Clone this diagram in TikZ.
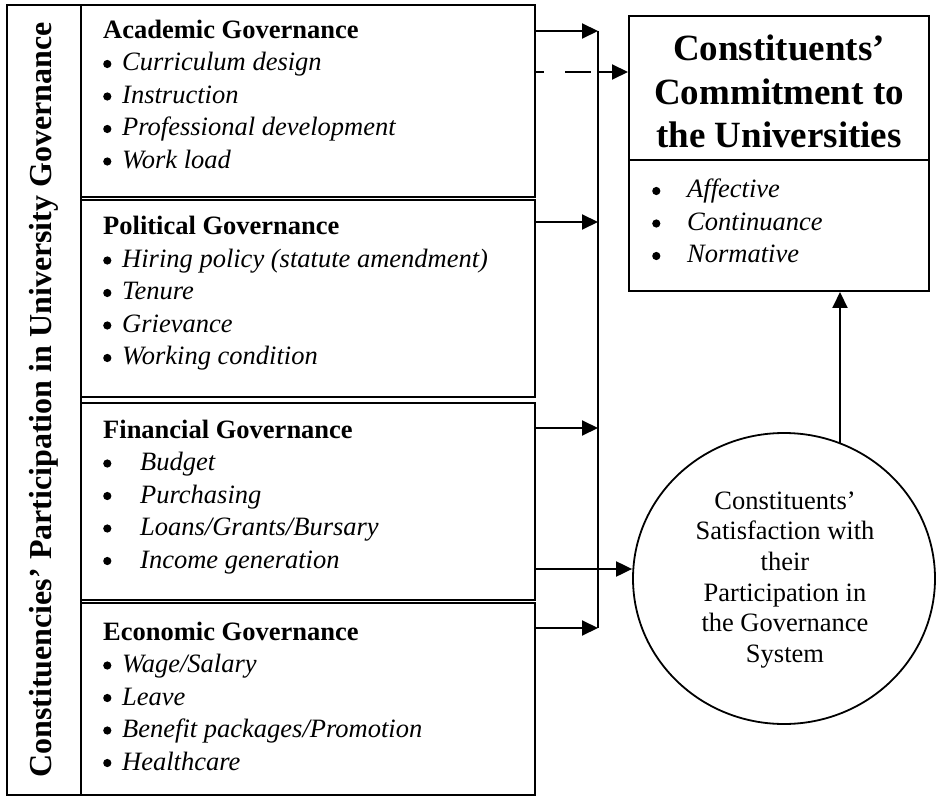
\documentclass[tikz,border=0pt]{standalone}
\usepackage{fontspec}
\setmainfont{Liberation Serif}
\usetikzlibrary{arrows.meta,shapes.geometric,calc}
\newcommand\rowsL[1]{\begin{tabular}[t]{@{}l@{}}#1\end{tabular}}
\newcommand\rowsC[1]{\begin{tabular}[t]{@{}c@{}}#1\end{tabular}}
\newcommand\bulletdot{\tikz[x=1pt,y=1pt,baseline=0pt]\fill (4.2,7) circle[radius=4.1];}
\newcommand\itm[2][19pt]{\makebox[#1][l]{\bulletdot}\textit{#2}}
\begin{document}
\begin{tikzpicture}[x=1pt,y=-1pt,line width=2pt,
  box/.style={draw,rectangle,inner sep=0pt,line width=2pt},
  arr/.style={-{Triangle[length=16pt,width=15pt]},line width=2pt},
  body/.style={inner sep=0pt,anchor=base west,font=\fontsize{26.5}{32.5}\selectfont},
  ctext/.style={inner sep=0pt,anchor=base},
]
\useasboundingbox (0,0) rectangle (936,799);

% left band with rotated title
\node[box,rotate=90,minimum width=790pt,minimum height=74pt,
      font=\fontsize{32}{38}\selectfont\bfseries] (band) at (44,400)
      {Constituencies’ Participation in University Governance};

% governance boxes
\node[box,minimum width=454pt,minimum height=192pt] (acad) at (308,101) {};
\node[box,minimum width=454pt,minimum height=197pt] (poli) at (308,298.5) {};
\node[box,minimum width=454pt,minimum height=197pt] (fina) at (308,501.5) {};
\node[box,minimum width=454pt,minimum height=192pt] (econ) at (308,699) {};

\node[body] (acadT) at (103,38.5) {\rowsL{\textbf{Academic Governance}\\
  \itm{Curriculum design}\\ \itm{Instruction}\\ \itm{Professional development}\\ \itm{Work load}}};
\node[body] (poliT) at (103,235) {\rowsL{\textbf{Political Governance}\\
  \itm{Hiring policy (statute amendment)}\\ \itm{Tenure}\\ \itm{Grievance}\\ \itm{Working condition}}};
\node[body] (finaT) at (103,438) {\rowsL{\textbf{Financial Governance}\\
  \itm[37pt]{Budget}\\ \itm[37pt]{Purchasing}\\ \itm[37pt]{Loans/Grants/Bursary}\\ \itm[37pt]{Income generation}}};
\node[body] (econT) at (103,640) {\rowsL{\textbf{Economic Governance}\\
  \itm{Wage/Salary}\\ \itm{Leave}\\ \itm{Benefit packages/Promotion}\\ \itm{Healthcare}}};

% commitment box
\node[box,minimum width=300pt,minimum height=275pt] (commit) at (779,153.5) {};
\coordinate (dv) at (779,160);
\draw (commit.west |- dv) -- (commit.east |- dv);
\node[ctext,font=\fontsize{37}{43.5}\selectfont\bfseries] (ctitle) at (779,61)
  {\rowsC{Constituents’\\Commitment to\\the Universities}};
\node[body] (clist) at (652,198) {\rowsL{\itm[35pt]{Affective}\\ \itm[35pt]{Continuance}\\ \itm[35pt]{Normative}}};

% satisfaction ellipse
\node[draw,ellipse,minimum width=302pt,minimum height=291pt,inner sep=0pt,line width=1.8pt] (sat) at (784,578.5) {};
\node[ctext,font=\fontsize{26.5}{30.7}\selectfont] (satT) at (785,509)
  {\rowsC{Constituents’\\Satisfaction with\\their\\Participation in\\the Governance\\System}};

% bus and connectors
\coordinate (b1) at (598,31);
\coordinate (bd) at (598,72);
\coordinate (b2) at (598,222);
\coordinate (b3) at (598,428);
\coordinate (b4) at (598,628);
\draw (b1) -- (b4);
\draw[arr] (acad.east |- b1) -- (b1);
\draw[arr] (poli.east |- b2) -- (b2);
\draw[arr] (fina.east |- b3) -- (b3);
\draw[arr] (econ.east |- b4) -- (b4);
\draw[dash pattern=on 26pt off 21pt,dash phase=18pt] (acad.east |- bd) -- (bd);
\draw[arr] (bd) -- (bd -| commit.west);
\coordinate (inc) at (535,569);
\draw[arr] (inc) -- (inc -| sat.west);
\coordinate (up) at (840,443);
\draw[arr] (up) -- (up |- commit.south);
\end{tikzpicture}
\end{document}
